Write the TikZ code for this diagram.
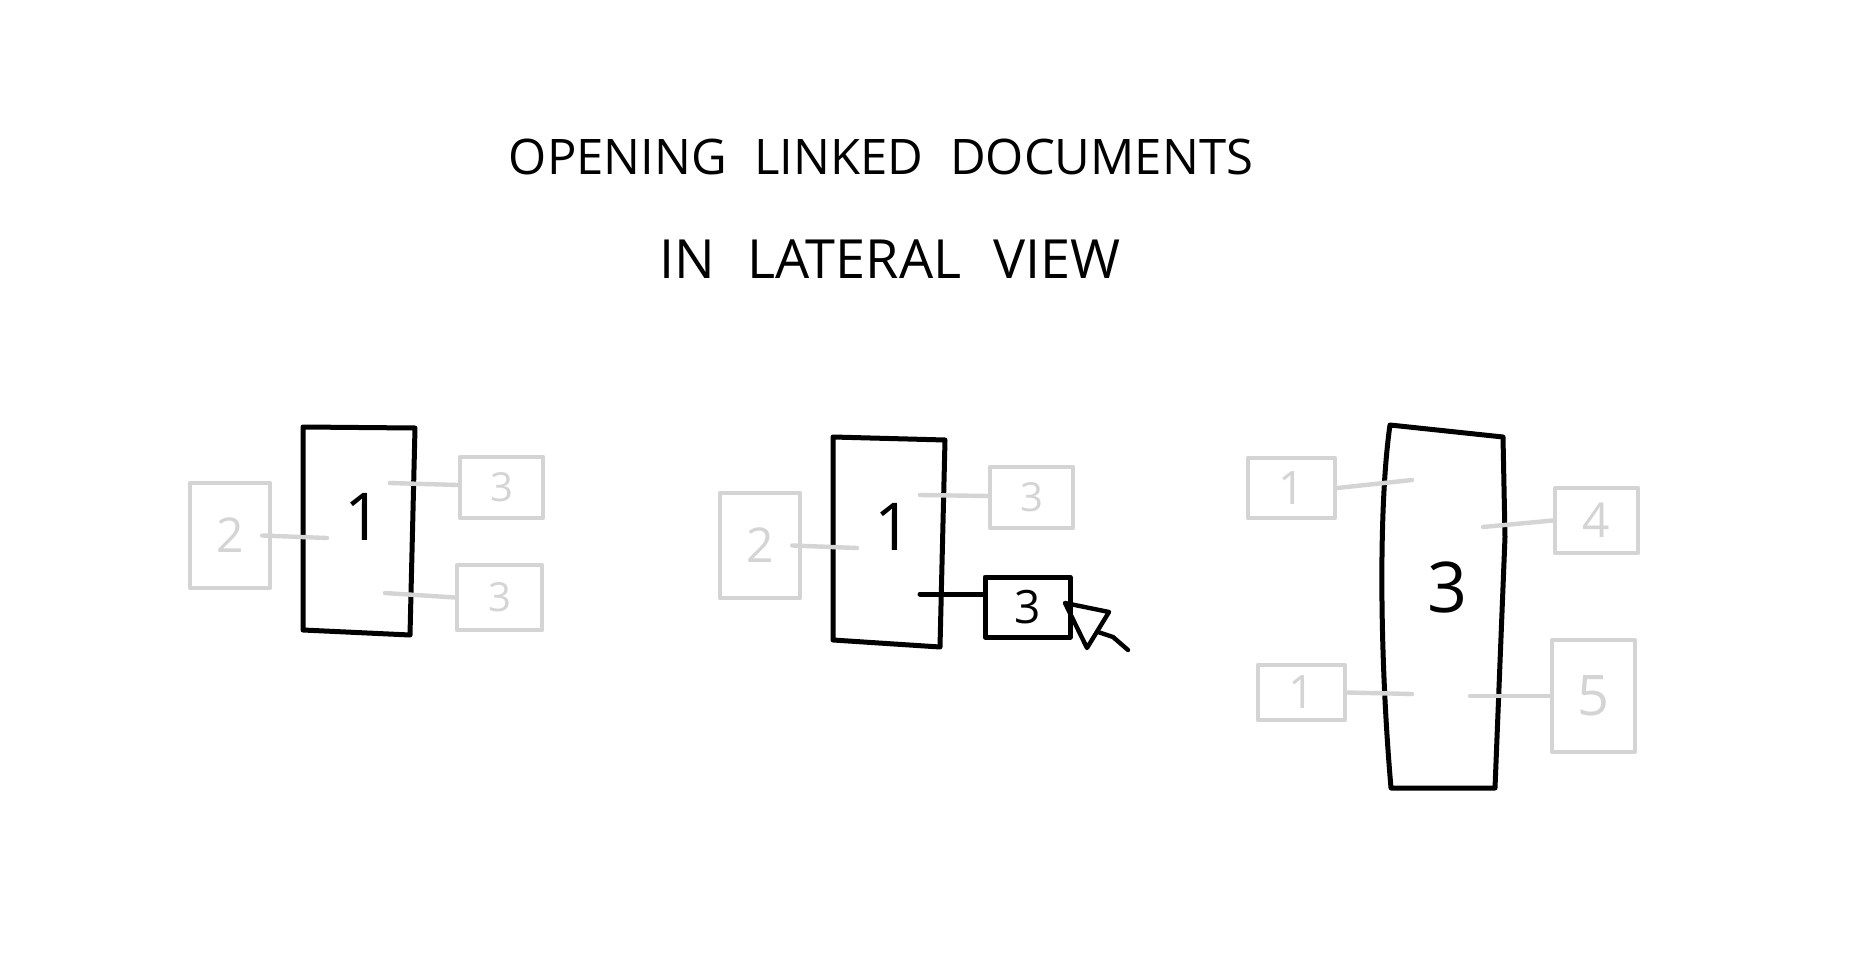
\documentclass[tikz,border=0pt]{standalone}
\usepackage{fontspec}
\setmainfont{Open Sans}
\begin{document}
\begin{tikzpicture}[x=1pt,y=-1pt,
  ink/.style={draw=black,line width=5pt,line join=round,line cap=round},
  faint/.style={draw=fgray,line width=4.4pt,line join=round,line cap=round},
  gbox/.style={faint,rectangle,inner sep=0pt,text=fgray,font=\fontsize{48}{48}\selectfont},
  bbox/.style={ink,rectangle,inner sep=0pt,text=black,font=\fontsize{46}{46}\selectfont},
  biglabel/.style={inner sep=0pt,text=black,font=\fontsize{66}{66}\selectfont},
  titletext/.style={inner sep=0pt,text=black,font=\fontsize{49}{49}\selectfont}
]
\definecolor{fgray}{HTML}{D4D4D4}
\useasboundingbox[fill=white] (0,0) rectangle (1872,955);

% title
\node[titletext] (t1) at (881,157) {OPENING\hspace{0.55em}LINKED\hspace{0.55em}DOCUMENTS};
\node[titletext,font=\fontsize{54}{54}\selectfont] (t2) at (890,259) {IN\hspace{0.6em}LATERAL\hspace{0.6em}VIEW};

% ---------- panel 1 ----------
\draw[ink] (303,427) -- (415,428) -- (410,635) -- (303,630) -- cycle;
\node[biglabel] (a1) at (363,517) {1};
\node[gbox,minimum width=80pt,minimum height=105pt] (a2) at (230,535.5) {2};
\node[gbox,minimum width=83pt,minimum height=61pt,font=\fontsize{40}{40}\selectfont] (a3) at (501.5,487.5) {3};
\node[gbox,minimum width=85pt,minimum height=65pt,font=\fontsize{40}{40}\selectfont] (a4) at (499.5,597.5) {3};
\coordinate (a2c) at (327,538);
\coordinate (a3c) at (390,483);
\coordinate (a4c) at (385,593);
\draw[faint] ([xshift=-10pt]a2.east) -- (a2c);
\draw[faint] (a3c) -- ([yshift=2.5pt]a3.west);
\draw[faint] (a4c) -- (a4.west);

% ---------- panel 2 ----------
\draw[ink] (833,437) -- (945,440) -- (940,647) -- (833,640) -- cycle;
\node[biglabel] (b1) at (893,527) {1};
\node[gbox,minimum width=80pt,minimum height=105pt] (b2) at (760,545.5) {2};
\node[gbox,minimum width=83pt,minimum height=61pt,font=\fontsize{40}{40}\selectfont] (b3) at (1031.5,497.5) {3};
\node[bbox,minimum width=85pt,minimum height=60pt] (b4) at (1027.5,607) {3};
\coordinate (b2c) at (857,548);
\coordinate (b3c) at (920,495);
\coordinate (b4c) at (920,594);
\draw[faint] ([xshift=-10pt]b2.east) -- (b2c);
\draw[faint] (b3c) -- ([yshift=1.5pt]b3.west);
\draw[ink] (b4c) -- (b4.west |- b4c);
% cursor
\coordinate (tip) at (1065,603);
\draw[ink,line width=4.4pt] (tip) -- (1109,612) -- (1087,648) -- cycle;
\draw[ink,line width=4.4pt] (1098,632) -- (1113,637) -- (1128,650);

% ---------- panel 3 ----------
\draw[ink] (1390,425) -- (1503,437) -- (1505,537) -- (1495,788) -- (1391,788) .. controls (1379,650) and (1379,500) .. cycle;
\node[biglabel,font=\fontsize{70}{70}\selectfont] (c1) at (1447,587) {3};
\node[gbox,minimum width=87pt,minimum height=60pt,font=\fontsize{46}{46}\selectfont] (c2) at (1291.5,488) {1};
\node[gbox,minimum width=83pt,minimum height=65pt] (c3) at (1596.5,520.5) {4};
\node[gbox,minimum width=87pt,minimum height=55pt,font=\fontsize{46}{46}\selectfont] (c4) at (1301.5,692.5) {1};
\node[gbox,minimum width=83pt,minimum height=112pt,font=\fontsize{56}{56}\selectfont] (c5) at (1593.5,696) {5};
\coordinate (c2c) at (1412,480);
\coordinate (c3c) at (1483,527);
\coordinate (c4c) at (1412,694);
\coordinate (c5c) at (1470,696);
\draw[faint] (c2.east) -- (c2c);
\draw[faint] (c3c) -- (c3.west);
\draw[faint] (c4.east) -- (c4c);
\draw[faint] (c5c) -- (c5.west);
\end{tikzpicture}
\end{document}
